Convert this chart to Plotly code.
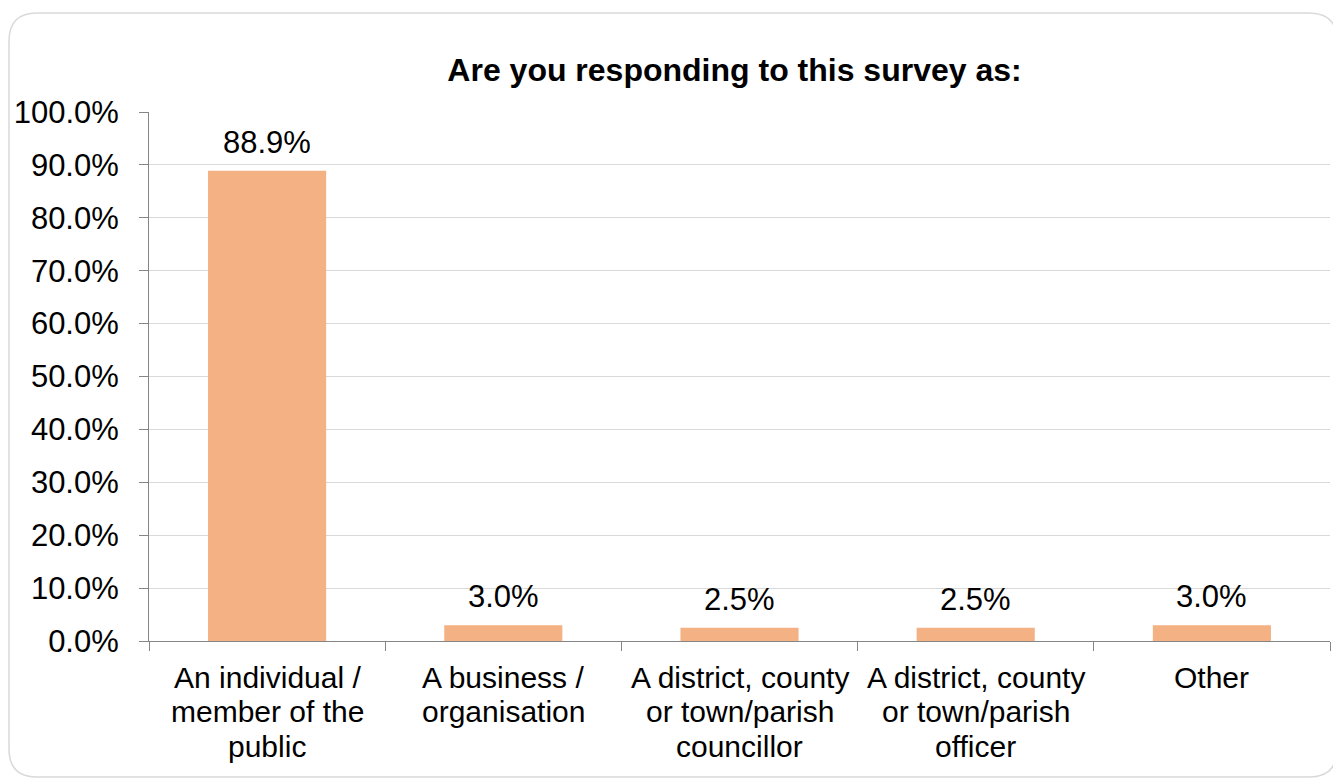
import plotly.graph_objects as go

# survey answers, share of respondents
categories = [
    "An individual /<br>member of the<br>public",
    "A business /<br>organisation",
    "A district, county<br>or town/parish<br>councillor",
    "A district, county<br>or town/parish<br>officer",
    "Other",
]
shares = [0.889, 0.030, 0.025, 0.025, 0.030]

# page body adds an 8px offset, so the figure is sized a little smaller
W, H = 1333, 772
L, R, T, B = 141, 11, 104, 139
FONT = "Liberation Sans, Arial, sans-serif"


def px_to_paper(px, py):
    return (px - L) / (W - L - R), (H - B - py) / (H - T - B)


def rounded_box(x0, y0, x1, y1, r):
    # outer rounded frame, pixel coords converted to paper coords
    def p(x, y):
        a, b = px_to_paper(x, y)
        return f"{a:.5f},{b:.5f}"
    return (f"M {p(x0 + r, y0)} L {p(x1 - r, y0)} Q {p(x1, y0)} {p(x1, y0 + r)} "
            f"L {p(x1, y1 - r)} Q {p(x1, y1)} {p(x1 - r, y1)} "
            f"L {p(x0 + r, y1)} Q {p(x0, y1)} {p(x0, y1 - r)} "
            f"L {p(x0, y0 + r)} Q {p(x0, y0)} {p(x0 + r, y0)} Z")


fig = go.Figure()
fig.add_trace(go.Bar(
    x=categories,
    y=shares,
    marker=dict(color="#F4B183", line=dict(width=0)),
    hoverinfo="skip",
))

for c, v in zip(categories, shares):
    fig.add_annotation(
        x=c, y=v, text=f"{v * 100:.1f}%", showarrow=False,
        yanchor="bottom", yshift=9,
        font=dict(family=FONT, size=31, color="black"),
    )
    # category label, one annotation per line for tighter line spacing
    for i, line in enumerate(c.split("<br>")):
        fig.add_annotation(
            x=c, y=0, text=line, showarrow=False,
            yanchor="middle", yshift=-(36 + 34.5 * i),
            font=dict(family=FONT, size=30, color="black"),
        )

fig.add_shape(
    type="path", xref="paper", yref="paper",
    path=rounded_box(1, 5, 1329, 769, 28),
    line=dict(color="#D9D9D9", width=1.5), layer="below",
)

fig.update_layout(
    width=W, height=H,
    margin=dict(l=L, r=R, t=T, b=B),
    paper_bgcolor="white",
    plot_bgcolor="white",
    showlegend=False,
    bargap=0.5,
    font=dict(family=FONT, size=31, color="black"),
    title=dict(
        text="<b>Are you responding to this survey as:</b>",
        x=726.5 / W, xanchor="center", y=1 - 62 / H, yanchor="middle",
        font=dict(family=FONT, size=32, color="black"),
        automargin=False,
    ),
)

fig.update_yaxes(
    range=[0, 1], dtick=0.1, tickformat=".1%",
    showgrid=True, gridcolor="#D9D9D9", gridwidth=1,
    showline=True, linecolor="#868686", linewidth=1,
    ticks="outside", ticklen=9, tickcolor="#868686",
    ticklabelstandoff=14, zeroline=False, automargin=False,
    tickfont=dict(family=FONT, size=31, color="black"),
)
fig.update_xaxes(
    showline=True, linecolor="#868686", linewidth=1,
    ticks="outside", ticklen=9, tickcolor="#868686", tickson="boundaries",
    showticklabels=False, automargin=False,
)

fig.write_html("out.html")
